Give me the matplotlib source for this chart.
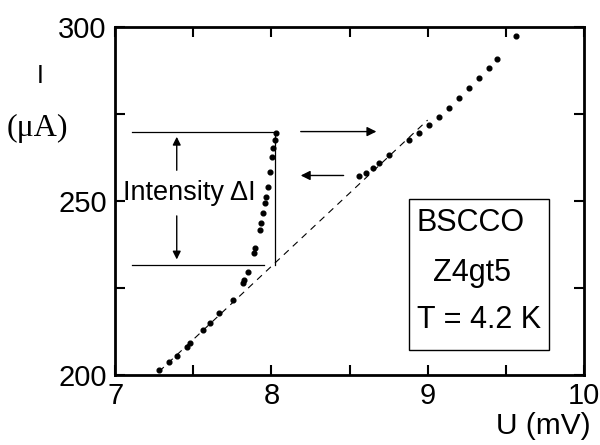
import matplotlib
matplotlib.use("Agg")
import matplotlib.pyplot as plt
from matplotlib.ticker import MultipleLocator

plt.rcParams['font.family'] = ['Liberation Sans', 'DejaVu Sans']

# lower (superconducting-ish) branch
u_low = [7.283, 7.345, 7.396, 7.459, 7.479, 7.560, 7.606, 7.664, 7.751, 7.815,
         7.823, 7.849, 7.887, 7.893, 7.925, 7.936, 7.944, 7.957, 7.968, 7.976,
         7.994, 8.006, 8.008, 8.021, 8.032]
i_low = [201.4, 203.8, 205.5, 208.0, 209.2, 212.9, 214.9, 217.8, 221.6, 226.4,
         227.3, 229.6, 235.1, 236.5, 241.7, 243.7, 246.6, 249.4, 251.1, 254.0,
         258.3, 262.6, 265.2, 267.5, 269.5]

# upper branch after the jump
u_high = [8.563, 8.606, 8.648, 8.691, 8.755, 8.883, 8.946, 9.010, 9.074, 9.138,
          9.202, 9.265, 9.329, 9.393, 9.446, 9.567]
i_high = [257.2, 258.1, 259.5, 260.8, 263.2, 267.5, 269.5, 271.8, 274.2, 276.6,
          279.5, 282.4, 285.3, 288.1, 290.7, 297.4]

# dashed guide line ends
u_dash = [7.28, 9.0]
i_dash = [201.0, 273.2]

# annotation levels
i_top = 269.9
i_bot = 231.6

fig, ax = plt.subplots(figsize=(6, 4.45), dpi=100)
fig.subplots_adjust(left=0.192, right=0.973, bottom=0.157, top=0.94)

ax.plot(u_dash, i_dash, color='black', lw=0.8, ls=(0, (6, 5)))
ax.plot(u_low, i_low, 'o', color='black', ms=3.4)
ax.plot(u_high, i_high, 'o', color='black', ms=3.4)

# horizontal guide lines and vertical jump line
ax.plot([7.106, 8.03], [i_top, i_top], color='black', lw=0.9)
ax.plot([7.106, 7.951], [i_bot, i_bot], color='black', lw=0.9)
ax.plot([8.025, 8.025], [i_bot, 269.0], color='black', lw=0.9)

# jump arrows
ax.annotate('', xy=(8.69, i_top), xytext=(8.17, i_top),
            arrowprops=dict(arrowstyle='-|>', color='black', lw=1.0, mutation_scale=14))
ax.annotate('', xy=(8.17, 257.3), xytext=(8.48, 257.3),
            arrowprops=dict(arrowstyle='-|>', color='black', lw=1.0, mutation_scale=14))

# Delta I arrows
ax.annotate('', xy=(7.394, 269.2), xytext=(7.394, 258.0),
            arrowprops=dict(arrowstyle='-|>', color='black', lw=1.0, mutation_scale=12))
ax.annotate('', xy=(7.394, 232.4), xytext=(7.394, 246.5),
            arrowprops=dict(arrowstyle='-|>', color='black', lw=1.0, mutation_scale=12))
ax.text(7.05, 252.2, 'Intensity \u0394I', fontsize=19.5, ha='left', va='center')

# sample info box
box = plt.Rectangle((8.878, 207.2), 0.902, 43.3, fill=False, lw=1.0,
                    edgecolor='black')
ax.add_patch(box)
ax.text(9.276, 243.6, 'BSCCO', fontsize=22, ha='center', va='center')
ax.text(9.287, 229.2, 'Z4gt5', fontsize=22, ha='center', va='center')
ax.text(9.33, 215.8, 'T = 4.2 K', fontsize=22, ha='center', va='center')

ax.set_xlim(7, 10)
ax.set_ylim(200, 300)
ax.set_xticks([7, 8, 9, 10])
ax.set_yticks([200, 250, 300])
ax.xaxis.set_minor_locator(MultipleLocator(0.5))
ax.yaxis.set_minor_locator(MultipleLocator(25))
ax.tick_params(which='both', direction='in', top=True, right=True,
               labelsize=21, width=1.5)
ax.tick_params(which='major', length=7)
ax.tick_params(which='minor', length=7)
ax.tick_params(axis='x', pad=5)
ax.tick_params(axis='y', pad=6)
for s in ax.spines.values():
    s.set_linewidth(2)

fig.text(0.067, 0.83, 'I', fontsize=18, ha='center', va='center')
fig.text(0.062, 0.712, '(\u03bcA)', fontsize=23, ha='center', va='center',
         family=['Liberation Serif', 'DejaVu Serif'])
fig.text(0.985, 0.012, 'U (mV)', fontsize=21.5, ha='right', va='bottom')

fig.savefig('out.png', dpi=100)
